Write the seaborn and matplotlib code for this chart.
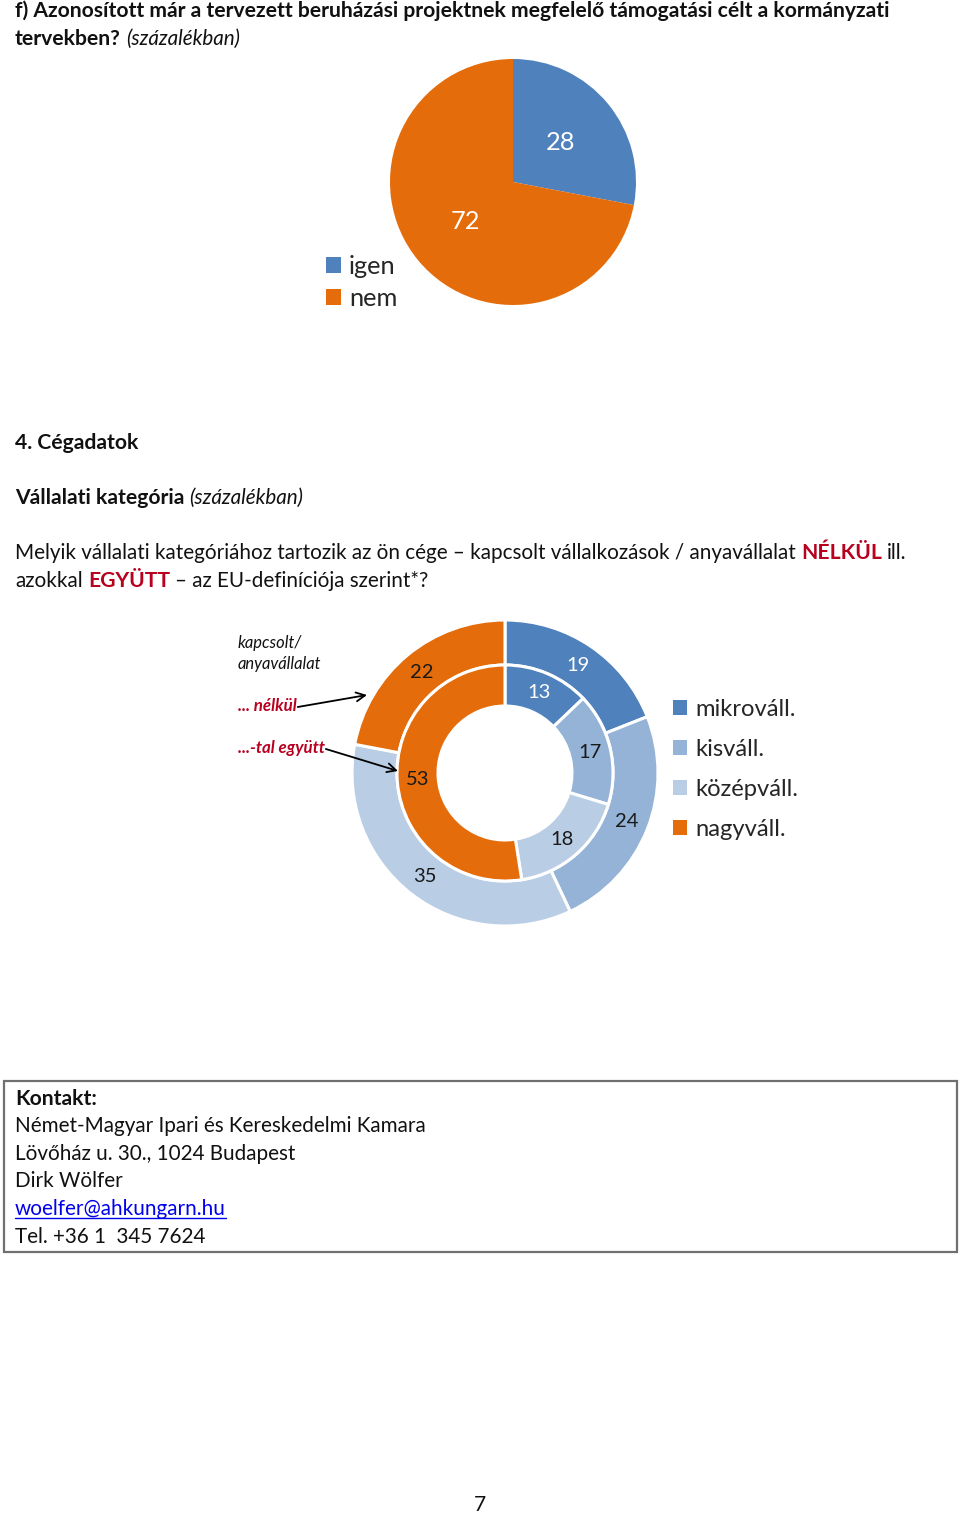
import matplotlib
matplotlib.use("Agg")
import matplotlib.pyplot as plt
import seaborn as sns
import numpy as np
from matplotlib.patches import Patch, Rectangle

# ---------------- data ----------------
q_labels = ["igen", "nem"]
q_values = [28, 72]

cat_labels = ["mikrováll.", "kisváll.", "középváll.", "nagyváll."]
without_values = [19, 24, 35, 22]   # outer ring: kapcsolt/anyavállalat nélkül
with_values = [13, 17, 18, 53]      # inner ring: ...-tal együtt

# ---------------- style ----------------
sns.set_theme(style="white")
plt.rcParams["font.family"] = ["Lato", "DejaVu Sans"]

q_colors = ["#4F81BD", "#E46C0A"]
cat_colors = ["#4F81BD", "#95B3D7", "#B9CDE5", "#E46C0A"]
label_colors = ["white", "#1a1a1a", "#1a1a1a", "#1a1a1a"]
RED = "#B8001F"
INK = "#111111"

W, H = 960, 1515
fig = plt.figure(figsize=(W / 100, H / 100), dpi=100)
fig.patch.set_facecolor("white")
page = fig.add_axes([0, 0, 1, 1])
page.set_xlim(0, W)
page.set_ylim(H, 0)
page.axis("off")
R = fig.canvas.get_renderer()


def width_of(ax, txt, size, weight="normal", style="normal"):
    t = ax.text(0, 0, txt, fontsize=size, fontweight=weight, fontstyle=style)
    w = t.get_window_extent(renderer=R).width
    t.remove()
    return w


# fit body size so the first title line spans the same width as the reference
title1 = "f) Azonosított már a tervezett beruházási projektnek megfelelő támogatási célt a kormányzati"
BODY = 10 * 877 / width_of(page, title1, 10, "bold")
REG = 0.978  # regular weight runs slightly narrower


def runs(x, y, parts, size=None, ax=None):
    ax = ax or page
    size = size or BODY
    for i, (txt, weight, style, color) in enumerate(parts):
        s = size * (REG if weight == "normal" else 1.0)
        if i > 0:
            x += width_of(ax, "x x", s, weight, style) - width_of(ax, "xx", s, weight, style)
        t = ax.text(x, y, txt, fontsize=s, fontweight=weight, fontstyle=style,
                    color=color, va="baseline", ha="left")
        x += t.get_window_extent(renderer=R).width
    return x


B, N, I = "bold", "normal", "italic"
runs(15, 17, [(title1, B, N, INK)])
runs(15, 45, [("tervekben?", B, N, INK), ("(százalékban)", N, I, INK)])
runs(15, 449, [("4. Cégadatok", B, N, INK)])
runs(15, 504, [("Vállalati kategória", B, N, INK), ("(százalékban)", N, I, INK)])
runs(15, 559, [("Melyik vállalati kategóriához tartozik az ön cége – kapcsolt vállalkozások / anyavállalat", N, N, INK),
               ("NÉLKÜL", B, N, RED), ("ill.", N, N, INK)])
runs(15, 587, [("azokkal", N, N, INK), ("EGYÜTT", B, N, RED), ("– az EU-definíciója szerint*?", N, N, INK)])

# contact box
page.add_patch(Rectangle((4, 1081), 953, 171, fill=False, edgecolor="#707070", lw=1.6))
runs(15, 1105, [("Kontakt:", B, N, INK)])
runs(15, 1132, [("Német-Magyar Ipari és Kereskedelmi Kamara", N, N, INK)])
runs(15, 1160, [("Lövőház u. 30., 1024 Budapest", N, N, INK)])
runs(15, 1187, [("Dirk Wölfer", N, N, INK)])
x_end = runs(15, 1215, [("woelfer@ahkungarn.hu", N, N, "#0000EE")])
page.plot([15, x_end], [1218, 1218], color="#0000EE", lw=1.0)
runs(15, 1243, [("Tel. +36 1  345 7624", N, N, INK)])

page.text(480, 1511, "7", fontsize=BODY, ha="center", va="baseline", color=INK)


def px_axes(cx, cy, r):
    return fig.add_axes([(cx - r) / W, 1 - (cy + r) / H, 2 * r / W, 2 * r / H])


def label_wedges(ax, wedges, values, r, colors, size):
    for w, v, c in zip(wedges, values, colors):
        ang = np.deg2rad((w.theta1 + w.theta2) / 2)
        ax.text(r * np.cos(ang), r * np.sin(ang), str(v), ha="center", va="center",
                fontsize=size, color=c)


# ---------------- pie 1 ----------------
ax1 = px_axes(513, 182, 123)
w1, _ = ax1.pie(q_values, colors=q_colors, startangle=90, counterclock=False, radius=1,
                wedgeprops=dict(linewidth=0))
ax1.set_xlim(-1, 1)
ax1.set_ylim(-1, 1)
label_wedges(ax1, w1, q_values, 0.5, ["white", "white"], BODY * 1.2)
ax1.legend(handles=[Patch(facecolor=c, edgecolor="none") for c in q_colors], labels=q_labels,
           loc="upper left", bbox_to_anchor=(326 / W, 1 - 255 / H), bbox_transform=fig.transFigure,
           frameon=False, fontsize=BODY * 1.2, handlelength=0.6, handleheight=0.6,
           handletextpad=0.3, labelspacing=0.34, borderpad=0, borderaxespad=0)

# ---------------- donut ----------------
ax2 = px_axes(505, 773, 153)
w_out, _ = ax2.pie(without_values, colors=cat_colors, startangle=90, counterclock=False, radius=1,
                   wedgeprops=dict(width=45 / 153, edgecolor="white", linewidth=2.2))
w_in, _ = ax2.pie(with_values, colors=cat_colors, startangle=90, counterclock=False, radius=108 / 153,
                  wedgeprops=dict(width=41 / 153, edgecolor="white", linewidth=2.2))
ax2.set_xlim(-1, 1)
ax2.set_ylim(-1, 1)
label_wedges(ax2, w_out, without_values, 1 - 22.5 / 153, label_colors, BODY * 0.95)
label_wedges(ax2, w_in, with_values, (108 - 20.5) / 153, label_colors, BODY * 0.95)
ax2.legend(handles=[Patch(facecolor=c, edgecolor="none") for c in cat_colors], labels=cat_labels,
           loc="upper left", bbox_to_anchor=(673 / W, 1 - 699 / H), bbox_transform=fig.transFigure,
           frameon=False, fontsize=BODY * 1.12, handlelength=0.6, handleheight=0.6,
           handletextpad=0.35, labelspacing=0.8, borderpad=0, borderaxespad=0)

# ---------------- annotations (overlay on top of the donut) ----------------
over = fig.add_axes([0, 0, 1, 1])
over.set_xlim(0, W)
over.set_ylim(H, 0)
over.axis("off")
over.patch.set_alpha(0)
SMALL = BODY * 0.8
runs(238, 648, [("kapcsolt/", N, I, INK)], SMALL, over)
runs(238, 669, [("anyavállalat", N, I, INK)], SMALL, over)
x1 = runs(238, 711, [("... nélkül", B, I, RED)], SMALL, over)
x2 = runs(238, 753, [("...-tal együtt", B, I, RED)], SMALL, over)
arrow = dict(arrowstyle="->", color="black", lw=1.3, mutation_scale=16, shrinkA=0, shrinkB=0)
over.annotate("", xy=(367, 695), xytext=(x1 + 1, 707), arrowprops=arrow)
over.annotate("", xy=(398, 771), xytext=(x2 + 1, 749), arrowprops=arrow)

fig.savefig("out.png", dpi=100, facecolor="white")
